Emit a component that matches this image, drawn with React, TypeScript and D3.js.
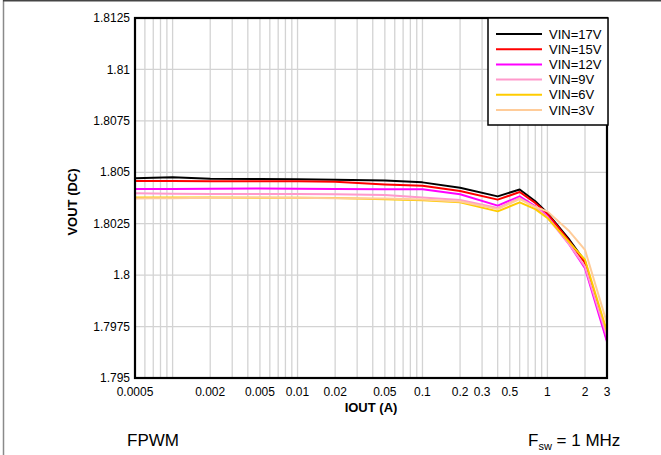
import React from "react";
import * as d3 from "d3";

const iout = [0.0005, 0.0007, 0.001, 0.002, 0.005, 0.01, 0.02, 0.05, 0.1, 0.2, 0.4, 0.6, 0.8, 1, 1.5, 2, 3];

const vin17 = [1.80471, 1.80474, 1.80476, 1.80468, 1.80467, 1.80466, 1.80464, 1.8046, 1.80451, 1.80425, 1.80383, 1.80416, 1.80359, 1.80302, 1.80172, 1.80067, 1.79685];
const vin15 = [1.80458, 1.80458, 1.80458, 1.80457, 1.80457, 1.80457, 1.80454, 1.80441, 1.80435, 1.80409, 1.80367, 1.80404, 1.80351, 1.80299, 1.80164, 1.80059, 1.79685];
const vin12 = [1.80419, 1.80419, 1.80419, 1.8042, 1.80421, 1.8042, 1.80419, 1.80417, 1.80417, 1.80393, 1.80338, 1.80383, 1.80334, 1.80286, 1.80148, 1.80034, 1.79677];
const vin9 = [1.80398, 1.80397, 1.80396, 1.80395, 1.80394, 1.80394, 1.80393, 1.80389, 1.80378, 1.80365, 1.80326, 1.80375, 1.80331, 1.80281, 1.80148, 1.80042, 1.79701];
const vin6 = [1.80378, 1.80378, 1.80378, 1.80377, 1.80376, 1.80376, 1.80375, 1.80369, 1.80364, 1.80354, 1.8031, 1.80354, 1.80321, 1.80278, 1.80159, 1.80075, 1.79726];
const vin3 = [1.80373, 1.80374, 1.80374, 1.80376, 1.80378, 1.80376, 1.80374, 1.80372, 1.80368, 1.80358, 1.80321, 1.8037, 1.80331, 1.8031, 1.80213, 1.80123, 1.79766];

const seriesNames = ["VIN=17V", "VIN=15V", "VIN=12V", "VIN=9V", "VIN=6V", "VIN=3V"];
const seriesValues = [vin17, vin15, vin12, vin9, vin6, vin3];
const seriesColors = ["#000000", "#ff0000", "#ff00ff", "#ff99cc", "#ffcc00", "#ffcc99"];

const xTickValues = [0.0005, 0.002, 0.005, 0.01, 0.02, 0.05, 0.1, 0.2, 0.3, 0.5, 1, 2, 3];
const xTickLabels = ["0.0005", "0.002", "0.005", "0.01", "0.02", "0.05", "0.1", "0.2", "0.3", "0.5", "1", "2", "3"];
const yTickValues = [1.795, 1.7975, 1.8, 1.8025, 1.805, 1.8075, 1.81, 1.8125];
const yTickLabels = ["1.795", "1.7975", "1.8", "1.8025", "1.805", "1.8075", "1.81", "1.8125"];

const W = 661;
const H = 455;
const L = 135, R = 607, T = 18, B = 378;
const FONT = "'Liberation Sans', Arial, sans-serif";

export default function App() {
  const x = d3.scaleLog().domain([0.0005, 3]).range([L, R]);
  const y = d3.scaleLinear().domain([1.795, 1.8125]).range([B, T]);

  const gridX: number[] = [];
  for (let e = -4; e <= 0; e++) {
    for (let m = 1; m <= 9; m++) {
      const v = m * Math.pow(10, e);
      if (v >= 0.0005 - 1e-12 && v <= 3 + 1e-9) gridX.push(v);
    }
  }

  const line = d3
    .line<[number, number]>()
    .x((d) => x(d[0]))
    .y((d) => y(d[1]));

  return (
    <svg
      width={W}
      height={H}
      style={{ position: "absolute", left: 0, top: 0, display: "block", background: "#fff" }}
      fontFamily={FONT}
    >
      <rect x={0} y={0} width={W} height={H} fill="#fff" />
      <line x1={3.5} y1={0} x2={3.5} y2={H} stroke="#8a8a8a" strokeWidth={1.5} />
      <line x1={3} y1={0.75} x2={W} y2={0.75} stroke="#444" strokeWidth={1.5} />

      {gridX.map((v, i) => (
        <line key={"gx" + i} x1={x(v)} x2={x(v)} y1={T} y2={B} stroke="#d3d3d3" strokeWidth={1.3} />
      ))}
      {yTickValues.map((v, i) => (
        <line key={"gy" + i} x1={L} x2={R} y1={y(v)} y2={y(v)} stroke="#d3d3d3" strokeWidth={1.3} />
      ))}

      {seriesValues.map((vals, si) => (
        <path
          key={"s" + si}
          d={line(iout.map((v, i) => [v, vals[i]] as [number, number])) || ""}
          fill="none"
          stroke={seriesColors[si]}
          strokeWidth={2}
          strokeLinejoin="round"
        />
      ))}

      <rect x={L} y={T} width={R - L} height={B - T} fill="none" stroke="#000" strokeWidth={2.2} />

      {yTickValues.map((v, i) => (
        <text key={"yl" + i} x={L - 5} y={y(v)} dy="0.35em" textAnchor="end" fontSize={12} fill="#000">
          {yTickLabels[i]}
        </text>
      ))}
      {xTickValues.map((v, i) => (
        <text key={"xl" + i} x={x(v)} y={B + 18} textAnchor="middle" fontSize={12} fill="#000">
          {xTickLabels[i]}
        </text>
      ))}

      <text x={(L + R) / 2} y={412} textAnchor="middle" fontSize={13} fontWeight="bold">
        IOUT (A)
      </text>
      <text
        transform={`translate(77, ${(T + B) / 2 + 4}) rotate(-90)`}
        textAnchor="middle"
        fontSize={13}
        fontWeight="bold"
      >
        VOUT (DC)
      </text>

      <g>
        <rect x={488} y={18} width={120} height={107} fill="#fff" stroke="#000" strokeWidth={1.5} />
        {seriesNames.map((n, i) => {
          const yy = 34 + i * 15.2;
          return (
            <g key={"lg" + i}>
              <line x1={496} x2={542} y1={yy} y2={yy} stroke={seriesColors[i]} strokeWidth={2} />
              <text x={549} y={yy} dy="0.35em" fontSize={13}>
                {n}
              </text>
            </g>
          );
        })}
      </g>

      <text x={127} y={446} fontSize={17}>
        FPWM
      </text>
      <text x={528} y={446} fontSize={17}>
        F<tspan fontSize={11} dy={4}>sw</tspan>
        <tspan dy={-4}> = 1 MHz</tspan>
      </text>
    </svg>
  );
}
